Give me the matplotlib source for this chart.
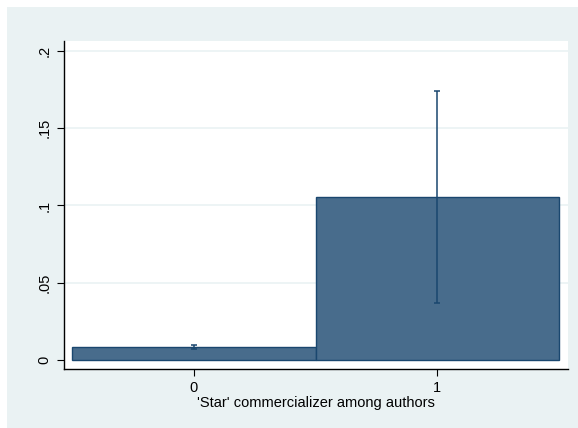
import matplotlib.pyplot as plt
from matplotlib.patches import Rectangle

# data
categories = [0, 1]
means = [0.0085, 0.1053]
ci_low = [0.0071, 0.0368]
ci_high = [0.0097, 0.1743]
yticks = [0, 0.05, 0.1, 0.15, 0.2]
ytick_labels = ['0', '.05', '.1', '.15', '.2']

plt.rcParams['font.family'] = ['Liberation Sans', 'DejaVu Sans']

fig = plt.figure(figsize=(5.78, 4.28), dpi=100)
fig.patch.set_facecolor('white')
# light blue graph region (Stata s2color)
fig.patches.append(Rectangle((7 / 578, 0), 1, 1 - 7 / 428, transform=fig.transFigure,
                             facecolor='#eaf2f3', edgecolor='none', zorder=-10))

ax = fig.add_axes([64 / 578, 59 / 428, 504 / 578, 328 / 428])
ax.set_facecolor('white')

ax.bar(categories, means, width=1.0, color='#486c8c', edgecolor='#1a476f',
       linewidth=1.0, zorder=2)
err_low = [m - l for m, l in zip(means, ci_low)]
err_high = [h - m for m, h in zip(means, ci_high)]
ax.errorbar(categories, means, yerr=[err_low, err_high], fmt='none',
            ecolor='#1a476f', elinewidth=1.1, capsize=2.3, capthick=1.1, zorder=3)

ax.set_xlim(-0.533, 1.537)
ax.set_ylim(-0.0058, 0.2064)
ax.set_xticks(categories)
ax.set_xticklabels(['0', '1'])
ax.set_yticks(yticks)
ax.set_yticklabels(ytick_labels, rotation=90, va='center')
for y in yticks[1:]:
    ax.axhline(y, color='#eaf2f3', linewidth=1.2, zorder=1)

for side in ['top', 'right']:
    ax.spines[side].set_visible(False)
for side in ['left', 'bottom']:
    ax.spines[side].set_color('black')
    ax.spines[side].set_linewidth(1.0)
ax.tick_params(direction='out', length=5, width=0.8, labelsize=10.5, colors='black', pad=4)

ax.set_xlabel("'Star' commercializer among authors", fontsize=10.5, labelpad=0)

fig.savefig('out.png', dpi=100)
